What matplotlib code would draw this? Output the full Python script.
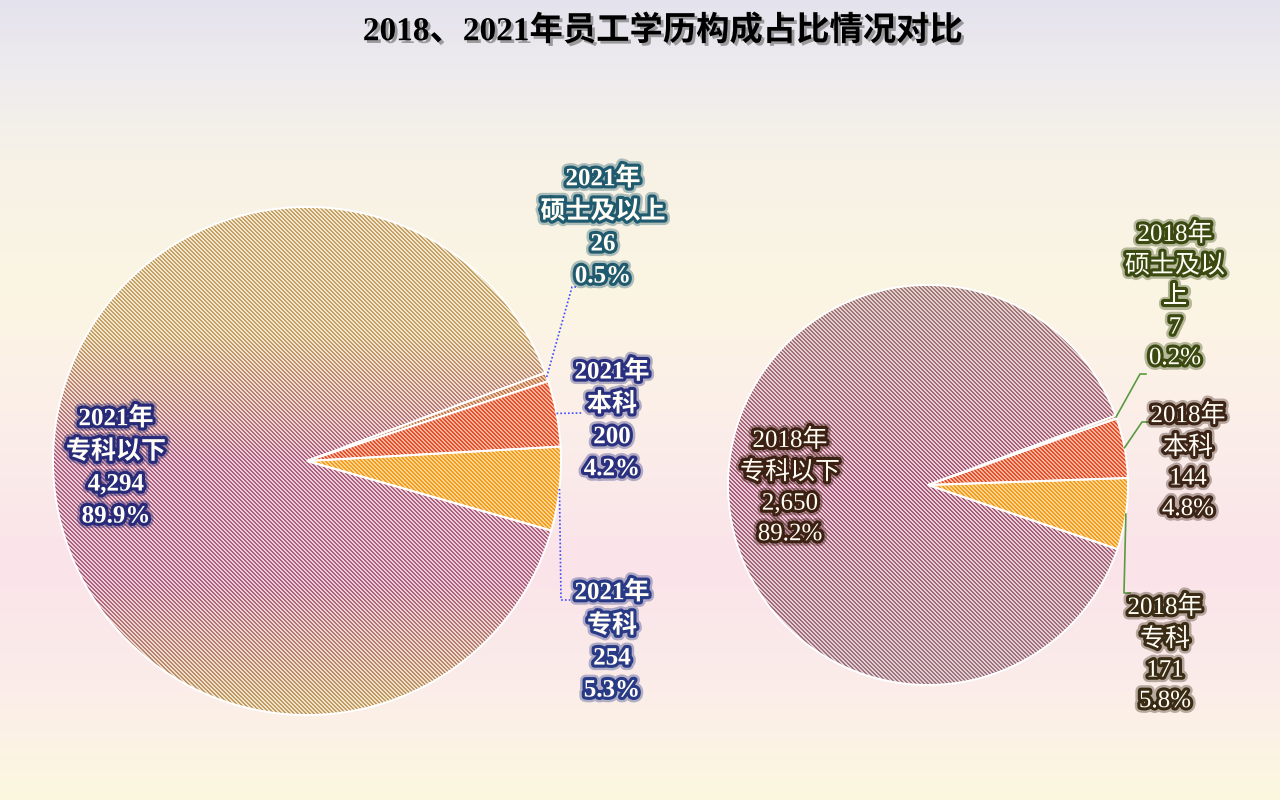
import numpy as np
import matplotlib
matplotlib.use('Agg')
import matplotlib.pyplot as plt
import matplotlib.patheffects as pe
from matplotlib.colors import to_rgb

# ---------------- data ----------------
title = '2018、2021年员工学历构成占比情况对比'
categories = ['硕士及以上', '本科', '专科', '专科以下']
values_2021 = [26, 200, 254, 4294]
values_2018 = [7, 144, 171, 2650]
years = ['2021', '2018']

# ---------------- canvas ----------------
W, H = 1280, 800
fig = plt.figure(figsize=(12.8, 8), dpi=100)
ax = fig.add_axes([0, 0, 1, 1])

rows = np.arange(H)
cols = np.arange(W)
X, Y = np.meshgrid(cols, rows)
stripe_mask = ((X - Y) % 4) < 2


def interp_colors(stops, pos):
    ps = [s[0] for s in stops]
    cs = np.array([to_rgb(s[1]) for s in stops])
    return np.stack([np.interp(pos, ps, cs[:, i]) for i in range(3)], axis=-1)


bg_stops = [(0, '#e4e2ec'), (70, '#eeebef'), (160, '#f7f2e6'), (300, '#fbf5e3'),
            (430, '#fbeeea'), (560, '#fae3e9'), (680, '#fbecea'), (800, '#fbf8df')]
bg = interp_colors(bg_stops, rows)
bg_img = (np.broadcast_to(bg[:, None, :], (H, W, 3)) * 255).astype(np.uint8)
ax.imshow(bg_img, extent=(0, W, 0, H), origin='upper', aspect='auto',
          zorder=0, interpolation='nearest')

# slice styles: list of (fraction from pie top, dark stripe colour, light colour)
style_master = [(0, '#c07a50', '#f0cbb0'), (1, '#c07a50', '#f0cbb0')]
style_bk = [(0, '#e4502e', '#fab49a'), (1, '#e4502e', '#fab49a')]
style_zk = [(0, '#f49a1c', '#ffd690'), (1, '#f49a1c', '#ffd690')]
style_big_left = [(0, '#c2a068', '#f4e8cc'), (0.25, '#c2a068', '#f4e8cc'),
                  (0.5, '#a8607f', '#efcdd9'), (0.74, '#a8607f', '#efcdd9'),
                  (0.97, '#bd9a66', '#f2e4c6'), (1.0, '#bd9a66', '#f2e4c6')]
style_big_right = [(0, '#a07a7a', '#e2d0cc'), (0.5, '#a45a78', '#efd0da'),
                   (1.0, '#9c767e', '#e2ced2')]


def stripe_img(cy_row, r, style):
    f = (rows - (cy_row - r)) / (2.0 * r)
    dark = interp_colors([(s[0], s[1]) for s in style], f)
    light = interp_colors([(s[0], s[2]) for s in style], f)
    img = np.where(stripe_mask[..., None], dark[:, None, :], light[:, None, :])
    return (img * 255).astype(np.uint8)


font_fam = ['Liberation Serif', 'Noto Sans CJK SC']

pies = [
    dict(values=values_2021, year=years[0], cx=307, cy=461, r=254, bold=True,
         styles=[style_master, style_bk, style_zk, style_big_left],
         label_pos=[(603, 227), (612, 420), (612, 641), (116, 467)],
         glow=['#1f5a6e', '#2a3080', '#283a86', '#262a78'],
         leader_mid=[(572, 287), (582, 413), (561, 600)],
         leader_end=[(578, 287), (582, 413), (570, 600)],
         leader_color='#3c4cff', leader_ls=(0, (1, 1.3)), wrap=5),
    dict(values=values_2018, year=years[1], cx=928, cy=485, r=200, bold=False,
         styles=[style_master, style_bk, style_zk, style_big_right],
         label_pos=[(1175, 296), (1188, 462), (1165, 654), (790, 487)],
         glow=['#3a4a10', '#3c2416', '#3a2c14', '#3c2012'],
         leader_mid=[(1140, 374), (1142, 422), (1124, 593)],
         leader_end=[(1146, 374), (1150, 422), (1130, 593)],
         leader_color='#5a9a40', leader_ls='-', wrap=4),
]


def wrap(s, n):
    return '\n'.join(s[i:i + n] for i in range(0, len(s), n))


for p in pies:
    vals = p['values']
    total = sum(vals)
    wedges, _ = ax.pie(vals, radius=p['r'], center=(p['cx'], H - p['cy']),
                       startangle=20.3, counterclock=False,
                       colors=['none'] * len(vals),
                       wedgeprops=dict(edgecolor='white', linewidth=1.4),
                       frame=True)
    for w in wedges:
        w.set_zorder(3)
    for i, w in enumerate(wedges):
        im = ax.imshow(stripe_img(p['cy'], p['r'], p['styles'][i]),
                       extent=(0, W, 0, H), origin='upper', aspect='auto',
                       interpolation='nearest', zorder=1)
        im.set_clip_path(w)
    # leader lines for the three small slices
    for i in range(3):
        w = wedges[i]
        mid = np.deg2rad((w.theta1 + w.theta2) / 2)
        ex = p['cx'] + p['r'] * np.cos(mid)
        ey = (H - p['cy']) + p['r'] * np.sin(mid)
        mx, my = p['leader_mid'][i]
        qx, qy = p['leader_end'][i]
        ax.plot([ex, mx, qx], [ey, H - my, H - qy], color=p['leader_color'],
                lw=1.2, ls=p['leader_ls'], zorder=4)
    # labels
    for i, v in enumerate(vals):
        name = wrap(categories[i], p['wrap'])
        txt = f"{p['year']}年\n{name}\n{v:,}\n{v / total * 100:.1f}%"
        lx, ly = p['label_pos'][i]
        c = p['glow'][i]
        ax.text(lx, H - ly, txt, ha='center', va='center', fontsize=18,
                color='#fffdf5', family=font_fam, linespacing=1.5,
                fontweight='bold' if p['bold'] else 'normal', zorder=5,
                path_effects=[pe.Stroke(linewidth=8, foreground=c, alpha=0.35),
                              pe.Stroke(linewidth=4.5, foreground=c),
                              pe.Normal()])

ax.text(663, H - 31, title, ha='center', va='center', fontsize=24,
        fontweight='bold', color='black', family=font_fam, zorder=5,
        path_effects=[pe.withSimplePatchShadow(offset=(2, -2),
                                               shadow_rgbFace='#666666',
                                               alpha=0.6)])

ax.set_aspect('auto')
ax.set_xlim(0, W)
ax.set_ylim(0, H)
ax.axis('off')
fig.savefig('out.png', dpi=100)
